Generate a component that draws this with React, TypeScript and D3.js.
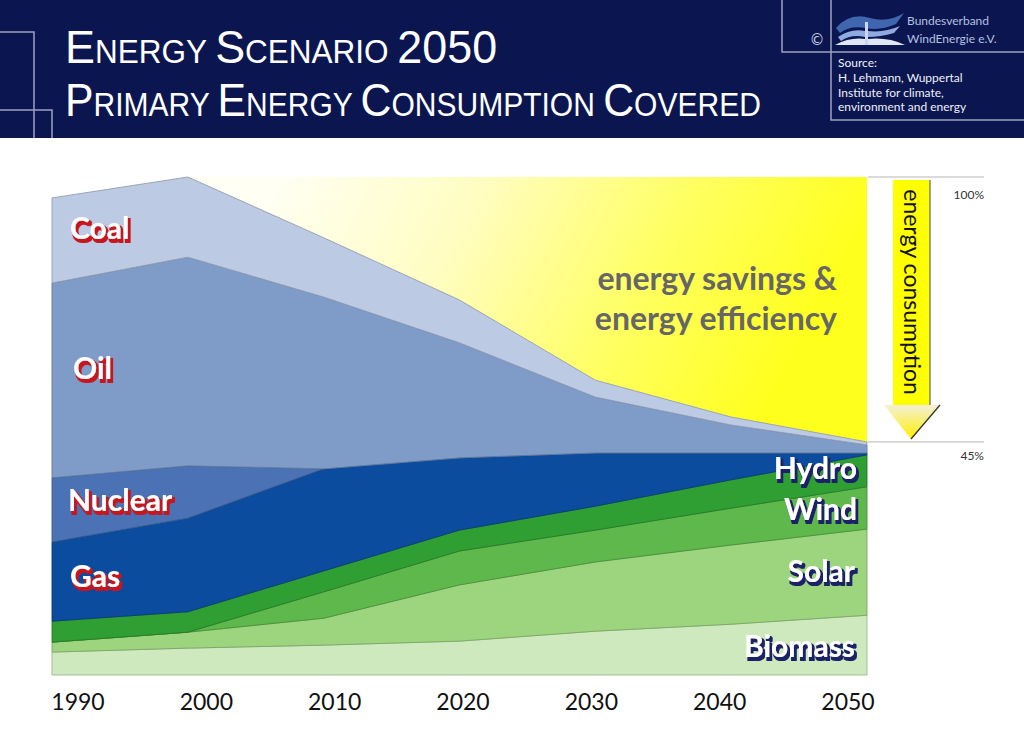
import React from "react";
import * as d3 from "d3";

const years = [1990, 2000, 2010, 2020, 2030, 2040, 2050];
const biomass = [4.6, 5.4, 6.0, 6.8, 8.8, 10.2, 12.0];
const solar = [2.0, 3.2, 5.4, 11.3, 13.9, 15.9, 17.3];
const wind = [0, 0, 5.3, 6.8, 6.4, 7.4, 8.5];
const hydro = [4.2, 4.1, 4.2, 4.2, 4.8, 5.7, 6.4];
const gas = [15.9, 18.8, 20.5, 14.5, 10.7, 5.4, 0.4];
const nuclear = [12.9, 10.5, 0, 0, 0, 0, 0];
const oil = [39.1, 41.9, 34.5, 23.1, 11.2, 5.6, 1.6];
const coal = [17.1, 16.1, 11.9, 8.6, 3.4, 1.6, 0.6];

const sourceKeys = ["Biomass", "Solar", "Wind", "Hydro", "Gas", "Nuclear", "Oil", "Coal"];
const sourceColors = ["#cde9bd", "#9dd57f", "#5fb84c", "#2f9e33", "#0b4c9e", "#4a72b4", "#7f9cc9", "#bccae3"];
const tickLabels = ["1990", "2000", "2010", "2020", "2030", "2040", "2050"];
const refLabels = ["100%", "45%"];
const savingsStart = 2000;

const W = 1024;
const H = 735;

export default function App() {
  const seriesValues = [biomass, solar, wind, hydro, gas, nuclear, oil, coal];
  const rows = years.map((yr, i) => {
    const r: any = { year: yr };
    sourceKeys.forEach((k, j) => (r[k] = seriesValues[j][i]));
    return r;
  });
  const stacked = d3.stack().keys(sourceKeys)(rows);
  const totals = rows.map((r) => d3.sum(sourceKeys, (k) => r[k]));
  const refTotal = totals[years.indexOf(savingsStart)];
  const endTotal = totals[totals.length - 1];

  const x = d3.scaleLinear().domain([1990, 2050]).range([52, 867]);
  const y = d3.scaleLinear().domain([0, 100]).range([675, 177]);
  const xLabel = d3.scalePoint<string>().domain(tickLabels).range([78, 848]);

  const area = d3
    .area<any>()
    .x((d) => x(d.data.year))
    .y0((d) => y(d[0]))
    .y1((d) => y(d[1]));

  const savingsRows = rows
    .map((r, i) => ({ year: r.year, total: totals[i] }))
    .filter((r) => r.year >= savingsStart);
  const savingsArea = d3
    .area<any>()
    .x((d) => x(d.year))
    .y0((d) => y(d.total))
    .y1(() => y(refTotal));

  const labelFont = "Lato, 'Open Sans', sans-serif";

  const shadowText = (txt: string, tx: number, ty: number, filt: string, anchor: string, key: string) => (
    <text
      key={key}
      x={tx}
      y={ty}
      fontFamily={labelFont}
      fontWeight={700}
      fontSize={30}
      textAnchor={anchor}
      fill="#ffffff"
      filter={`url(#${filt})`}
    >
      {txt}
    </text>
  );

  const big = 47;
  const small = 33;
  const lineCol = "#9ea3bf";

  return (
    <svg
      width={W}
      height={H}
      style={{ position: "absolute", left: 0, top: 0, display: "block", background: "#ffffff" }}
    >
      <defs>
        <linearGradient id="yellowGrad" gradientUnits="userSpaceOnUse" x1={280} y1={170} x2={760} y2={420}>
          <stop offset="0" stopColor="#fffff4" />
          <stop offset="0.35" stopColor="#fffdc0" />
          <stop offset="0.7" stopColor="#ffff60" />
          <stop offset="1" stopColor="#ffff1e" />
        </linearGradient>
        <linearGradient id="headGrad" x1="0" y1="0" x2="0" y2="1">
          <stop offset="0" stopColor="#f4f0d8" />
          <stop offset="1" stopColor="#ffef00" />
        </linearGradient>
        <filter id="redShadow" x="-10%" y="-20%" width="130%" height="150%">
          <feFlood floodColor="#c8141e" result="c" />
          <feComposite in="c" in2="SourceAlpha" operator="in" result="s" />
          <feMorphology in="s" operator="dilate" radius="0.5" result="sd" />
          <feOffset in="sd" dx="2" dy="2.5" result="o" />
          <feMerge>
            <feMergeNode in="o" />
            <feMergeNode in="SourceGraphic" />
          </feMerge>
        </filter>
        <filter id="navyShadow" x="-10%" y="-20%" width="130%" height="150%">
          <feFlood floodColor="#1a2468" result="c" />
          <feComposite in="c" in2="SourceAlpha" operator="in" result="s" />
          <feMorphology in="s" operator="dilate" radius="0.5" result="sd" />
          <feOffset in="sd" dx="2" dy="2.5" result="o" />
          <feMerge>
            <feMergeNode in="o" />
            <feMergeNode in="SourceGraphic" />
          </feMerge>
        </filter>
      </defs>

      {/* header */}
      <rect x={0} y={0} width={W} height={138} fill="#0b1650" />
      <g stroke={lineCol} strokeWidth={1.5} fill="none">
        <polyline points="0,32 34,32 34,138" />
        <polyline points="0,110 52,110 52,138" />
        <polyline points="782,0 782,52 1024,52" />
        <polyline points="831,0 831,120 1024,120" />
      </g>
      <g fontFamily="'Liberation Sans', Arial, sans-serif" fill="#ffffff">
        <g transform="translate(65,63) scale(0.955,1)">
          <text x={0} y={0} fontSize={small}>
            <tspan fontSize={big}>E</tspan>NERGY <tspan fontSize={big}>S</tspan>CENARIO{" "}
            <tspan fontSize={big}>2050</tspan>
          </text>
        </g>
        <g transform="translate(65,116) scale(0.91,1)">
          <text x={0} y={0} fontSize={small}>
            <tspan fontSize={big}>P</tspan>RIMARY <tspan fontSize={big}>E</tspan>NERGY{" "}
            <tspan fontSize={big}>C</tspan>ONSUMPTION <tspan fontSize={big}>C</tspan>OVERED
          </text>
        </g>
      </g>
      <text x={817} y={45} fontSize={15} fill="#c8cce0" textAnchor="middle" fontFamily="'DejaVu Sans', sans-serif">
        ©
      </text>
      {/* logo */}
      <g>
        <path d="M836,28 Q850,12 870,18 Q888,23 904,13 L896,24 Q880,31 866,28 Q850,25 840,33 Z" fill="#3f66ae" />
        <path d="M838,37 Q851,28 865,31 L865,37 Q851,34 841,41 Z" fill="#8eaade" />
        <path d="M868,31 Q884,33 900,26 L894,33 Q880,37 868,37 Z" fill="#8eaade" />
        <path d="M835,45 Q850,37 865,39 L865,45 Z" fill="#dfe7f6" />
        <path d="M868,39 Q888,37 905,45 L868,45 Z" fill="#dfe7f6" />
        <rect x={865} y={22} width={3} height={23} fill="#c9d6ef" />
      </g>
      <g fontFamily={labelFont} fontSize={12} fill="#b6c0e0">
        <text x={907} y={25}>Bundesverband</text>
        <text x={907} y={43}>WindEnergie e.V.</text>
      </g>
      <g fontFamily={labelFont} fontSize={12} fill="#eef0f8">
        <text x={838} y={67}>Source:</text>
        <text x={838} y={82}>H. Lehmann, Wuppertal</text>
        <text x={838} y={96.5}>Institute for climate,</text>
        <text x={838} y={111}>environment and energy</text>
      </g>

      {/* savings area */}
      <path d={savingsArea(savingsRows) || ""} fill="url(#yellowGrad)" />

      {/* stacked areas */}
      {stacked.map((s, i) => (
        <path
          key={s.key}
          d={area(s as any) || ""}
          fill={sourceColors[i]}
          stroke={d3.color(sourceColors[i])!.darker(0.7).formatHex()}
          strokeWidth={0.9}
          strokeLinejoin="round"
        />
      ))}

      {/* reference lines */}
      <g stroke="#b4b4b4" strokeWidth={1}>
        <line x1={868} x2={984} y1={y(refTotal)} y2={y(refTotal)} />
        <line x1={868} x2={984} y1={y(endTotal)} y2={y(endTotal)} />
      </g>
      <g fontFamily={labelFont} fontSize={12} fill="#333" textAnchor="end">
        <text x={984} y={y(refTotal) + 22}>{refLabels[0]}</text>
        <text x={984} y={y(endTotal) + 18}>{refLabels[1]}</text>
      </g>

      {/* arrow */}
      <g>
        <rect x={893} y={180} width={37} height={225} fill="#ffff00" />
        <line x1={930} y1={180} x2={930} y2={405} stroke="#666" strokeWidth={1.2} />
        <path d="M884,405 L940,405 L911,439 Z" fill="url(#headGrad)" />
        <line x1={940} y1={405} x2={911} y2={439} stroke="#333" strokeWidth={1.3} />
        <text
          transform="translate(904,292) rotate(90)"
          textAnchor="middle"
          fontFamily={labelFont}
          fontSize={23}
          fill="#111"
        >
          energy consumption
        </text>
      </g>

      {/* savings text */}
      <g fontFamily={labelFont} fontWeight={700} fontSize={32} fill="#666666" textAnchor="end">
        <text x={837} y={290}>energy savings &amp;</text>
        <text x={837} y={330}>energy efficiency</text>
      </g>

      {/* series labels */}
      {shadowText("Coal", 70, 239, "redShadow", "start", "coal")}
      {shadowText("Oil", 73, 379, "redShadow", "start", "oil")}
      {shadowText("Nuclear", 68, 511, "redShadow", "start", "nuc")}
      {shadowText("Gas", 70, 587, "redShadow", "start", "gas")}
      {shadowText("Hydro", 857, 479, "navyShadow", "end", "hydro")}
      {shadowText("Wind", 857, 520, "navyShadow", "end", "wind")}
      {shadowText("Solar", 855, 582, "navyShadow", "end", "solar")}
      {shadowText("Biomass", 855, 657, "navyShadow", "end", "bio")}

      {/* x tick labels */}
      <g fontFamily={labelFont} fontSize={23} fill="#111" textAnchor="middle">
        {tickLabels.map((t) => (
          <text key={t} x={xLabel(t)} y={710}>
            {t}
          </text>
        ))}
      </g>
    </svg>
  );
}
